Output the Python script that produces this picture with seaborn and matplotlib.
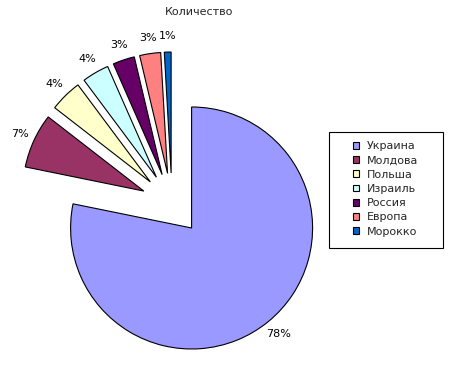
import matplotlib
matplotlib.use("Agg")
import matplotlib.pyplot as plt
import seaborn as sns
from matplotlib.patches import Rectangle

# Данные (оценка по рисунку)
countries = ['Украина', 'Молдова', 'Польша', 'Израиль', 'Россия', 'Европа', 'Морокко']
shares = [78.2, 7.3, 4.3, 3.6, 2.9, 2.8, 0.9]
colors = ['#9999FF', '#993366', '#FFFFCC', '#CCFFFF', '#660066', '#FF8080', '#0066CC']

sns.set_style('white')
plt.rcParams['font.family'] = ['DejaVu Sans']
plt.rcParams['font.size'] = 8

fig = plt.figure(figsize=(4.5, 3.66), dpi=100)
ax = fig.add_axes([0, 0, 1, 1])

wedges, texts, autotexts = ax.pie(
    shares,
    colors=colors,
    startangle=90,
    counterclock=False,
    explode=[0.256] * len(shares),
    autopct=lambda p: f'{p:.0f}%',
    pctdistance=1.13,
    wedgeprops=dict(edgecolor='black', linewidth=0.8),
    textprops=dict(fontsize=8, color='black'),
)

# масштаб: радиус 121 px, центр в (172, 204) px
r = 121
ax.set_xlim(-172 / r, (450 - 172) / r)
ax.set_ylim(-(366 - 204) / r, 204 / r)
ax.set_aspect('auto')
ax.axis('off')

fig.text(199.5 / 450, 1 - 12 / 366, 'Количество', ha='center', va='center', fontsize=8)

# рамка легенды
fig.patches.append(Rectangle((329 / 450, 1 - 248 / 366), 114 / 450, 116 / 366,
                             transform=fig.transFigure, facecolor='white',
                             edgecolor='black', linewidth=0.8, zorder=0))
fig.legend(wedges, countries, loc='center', bbox_to_anchor=(386 / 450, 1 - 189 / 366),
           frameon=False, fontsize=8, handlelength=0.55, handleheight=0.55,
           handletextpad=0.7, labelspacing=0.38, borderpad=0)

fig.savefig('out.png', dpi=100)
